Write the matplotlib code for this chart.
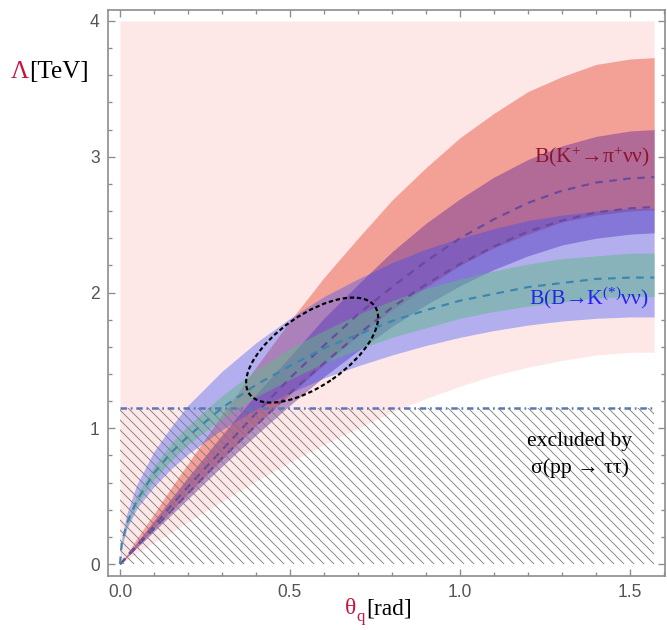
import matplotlib.pyplot as plt
import matplotlib.transforms as mtransforms
from matplotlib.patches import Ellipse
from matplotlib.ticker import MultipleLocator, FormatStrFormatter

plt.rcParams['font.family'] = ['Liberation Sans', 'DejaVu Sans']
plt.rcParams['mathtext.fontset'] = 'custom'
plt.rcParams['mathtext.rm'] = 'Liberation Serif'
plt.rcParams['mathtext.it'] = 'Liberation Serif:italic'
plt.rcParams['hatch.linewidth'] = 0.5

# theta_q grid [rad] and band edges Lambda [TeV]
theta = [0.0, 0.005, 0.02, 0.05, 0.1, 0.15, 0.2, 0.3, 0.4, 0.5, 0.6, 0.7,
         0.8, 0.9, 1.0, 1.1, 1.2, 1.3, 1.4, 1.5, 1.571]

# light pink allowed region (lower edge, top at 4 TeV)
pink_lo = [0, 0.01, 0.03, 0.08, 0.16, 0.23, 0.31, 0.46, 0.61, 0.75, 0.88,
           1.00, 1.12, 1.22, 1.31, 1.39, 1.45, 1.50, 1.54, 1.56, 1.56]
lambda_top = 4.0

# K+ -> pi+ nu nu : wide (salmon) and narrow (purple) bands
salmon_hi = [0, 0.02, 0.07, 0.19, 0.37, 0.56, 0.74, 1.10, 1.45, 1.79, 2.11,
             2.40, 2.68, 2.92, 3.14, 3.32, 3.48, 3.59, 3.68, 3.72, 3.73]
salmon_lo = [0, 0.01, 0.05, 0.13, 0.26, 0.39, 0.52, 0.77, 1.02, 1.25, 1.47,
             1.68, 1.87, 2.04, 2.20, 2.33, 2.43, 2.52, 2.57, 2.60, 2.61]
purple_hi = [0, 0.02, 0.06, 0.16, 0.32, 0.48, 0.64, 0.95, 1.25, 1.53, 1.81,
             2.06, 2.30, 2.51, 2.69, 2.85, 2.98, 3.08, 3.15, 3.19, 3.20]
purple_lo = [0, 0.01, 0.05, 0.12, 0.24, 0.36, 0.48, 0.72, 0.95, 1.17, 1.38,
             1.57, 1.75, 1.91, 2.05, 2.17, 2.27, 2.35, 2.40, 2.43, 2.44]
k_dash1 = [0, 0.01, 0.06, 0.14, 0.28, 0.43, 0.57, 0.84, 1.11, 1.37, 1.61,
           1.84, 2.04, 2.23, 2.40, 2.54, 2.66, 2.75, 2.81, 2.84, 2.85]
k_dash2 = [0, 0.01, 0.05, 0.13, 0.26, 0.39, 0.52, 0.78, 1.02, 1.26, 1.48,
           1.69, 1.89, 2.06, 2.21, 2.34, 2.45, 2.53, 2.59, 2.62, 2.63]

# B -> K(*) nu nu : wide (blue) and narrow (teal) bands
blue_hi = [0, 0.19, 0.37, 0.59, 0.83, 1.01, 1.17, 1.42, 1.63, 1.81, 1.97,
           2.10, 2.22, 2.32, 2.40, 2.47, 2.53, 2.57, 2.60, 2.62, 2.62]
blue_lo = [0, 0.13, 0.26, 0.41, 0.57, 0.70, 0.81, 0.99, 1.14, 1.26, 1.37,
           1.46, 1.54, 1.61, 1.67, 1.72, 1.76, 1.79, 1.81, 1.82, 1.82]
teal_hi = [0, 0.16, 0.32, 0.51, 0.72, 0.89, 1.02, 1.24, 1.43, 1.59, 1.72,
           1.84, 1.94, 2.03, 2.10, 2.16, 2.21, 2.25, 2.27, 2.29, 2.29]
teal_lo = [0, 0.14, 0.28, 0.44, 0.62, 0.76, 0.88, 1.07, 1.23, 1.36, 1.48,
           1.58, 1.67, 1.74, 1.81, 1.86, 1.90, 1.93, 1.96, 1.97, 1.97]
b_dash = [0, 0.15, 0.30, 0.47, 0.67, 0.82, 0.94, 1.15, 1.32, 1.46, 1.59,
          1.69, 1.79, 1.87, 1.94, 1.99, 2.04, 2.07, 2.10, 2.11, 2.11]

# pp -> tau tau exclusion and combined region
excl_lambda = 1.15
ellipse_center = (0.565, 1.576)

fig = plt.figure(figsize=(667 / 120, 630 / 120), dpi=120)
ax = fig.add_axes([108 / 667, 1 - 576 / 630, 557 / 667, 566 / 630])
ax.set_xlim(-0.0353, 1.603)
ax.set_ylim(-0.088, 4.081)

ax.fill_between(theta, pink_lo, lambda_top, color='#fde8e7', lw=0, zorder=1)
ax.fill_between(theta, salmon_lo, salmon_hi, color='#f3a096', lw=0, zorder=2)
ax.fill_between(theta, purple_lo, purple_hi, color=(0.39, 0.16, 0.59), alpha=0.45, lw=0, zorder=3)
ax.fill_between(theta, blue_lo, blue_hi, color=(0.16, 0.27, 1.0), alpha=0.35, lw=0, zorder=4)
ax.fill_between(theta, teal_lo, teal_hi, color=(0.38, 0.72, 0.53), alpha=0.5, lw=0, zorder=5)

ax.plot(theta, k_dash1, color='#6a4a9c', lw=1.3, ls=(0, (3.5, 3)), zorder=6)
ax.plot(theta, k_dash2, color='#6a4a9c', lw=1.3, ls=(0, (3.5, 3)), zorder=6)
ax.plot(theta, b_dash, color='#3a86ad', lw=1.3, ls=(0, (3.5, 3)), zorder=6)

# hatched exclusion + dot-dashed bound
ax.fill_between([theta[0], theta[-1]], 0, excl_lambda, facecolor='none',
                edgecolor='#7a7a7a', hatch='\\\\\\\\', lw=0, zorder=7)
ax.hlines(excl_lambda, theta[0], theta[-1], color='#5a78b6', lw=1.5,
          linestyles=[(0, (2.6, 1.5, 0.7, 1.5))], zorder=8)

ell_trans = fig.dpi_scale_trans + mtransforms.ScaledTranslation(*ellipse_center, ax.transData)
ax.add_patch(Ellipse((0, 0), 153 / 120, 71 / 120, angle=34.8, transform=ell_trans,
                     fill=False, ec='black', lw=1.3, ls=(0, (2, 1.3)), zorder=9))

# labels
serif = ['Liberation Serif', 'DejaVu Serif']
ax.text(1.559, 3.0, 'B(K$^{+}$→π$^{+}$νν)', color='#8b1530', fontsize=13,
        family=serif, ha='right', va='center', zorder=10)
ax.text(1.553, 1.96, 'B(B→K$^{(*)}$νν)', color='#2222ee', fontsize=13,
        family=serif, ha='right', va='center', zorder=10)
ax.text(1.353, 0.90, 'excluded by', color='black', fontsize=13,
        family=serif, ha='center', va='center', zorder=10)
ax.text(1.353, 0.71, 'σ(pp → ττ)', color='black', fontsize=13,
        family=serif, ha='center', va='center', zorder=10)

t1 = fig.text(0.0165, 0.886, 'Λ', color='#c8143c', fontsize=15, family=serif, va='center')
ax.annotate('[TeV]', xy=(1, 0.5), xycoords=t1, va='center', ha='left',
            fontsize=15, family=serif, annotation_clip=False)
t2 = fig.text(0.517, 0.034, 'θ', color='#c8143c', fontsize=14, family=serif, va='center')
ax.annotate('q', xy=(1, 0.5), xycoords=t2, xytext=(0, -5), textcoords='offset points',
            va='center', ha='left', color='#c8143c', fontsize=10, family=serif,
            annotation_clip=False)
ax.annotate('[rad]', xy=(1, 0.5), xycoords=t2, xytext=(6, 0), textcoords='offset points',
            va='center', ha='left', fontsize=14, family=serif, annotation_clip=False)

# frame and ticks
for s in ax.spines.values():
    s.set_color('#8c8c8c')
    s.set_linewidth(1.0)
ax.xaxis.set_major_locator(MultipleLocator(0.5))
ax.xaxis.set_minor_locator(MultipleLocator(0.1))
ax.yaxis.set_major_locator(MultipleLocator(1))
ax.yaxis.set_minor_locator(MultipleLocator(0.2))
ax.xaxis.set_major_formatter(FormatStrFormatter('%.1f'))
ax.yaxis.set_major_formatter(FormatStrFormatter('%d'))
ax.tick_params(which='both', direction='in', top=True, right=True, color='#8c8c8c',
               labelcolor='#555555', labelsize=10.5, width=0.8)
ax.tick_params(which='major', length=4, pad=5)
ax.tick_params(which='minor', length=2.5)

fig.savefig('out.png', dpi=120)
